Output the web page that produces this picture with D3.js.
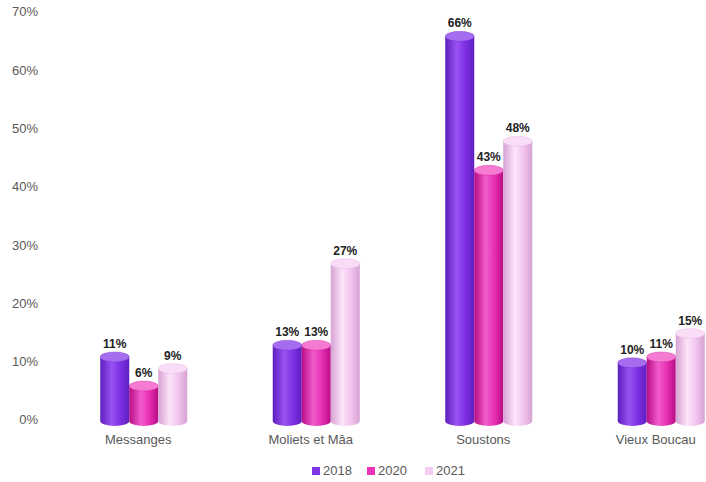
<!DOCTYPE html>
<html>
<head>
<meta charset="utf-8">
<script src="https://cdn.jsdelivr.net/npm/d3@7"></script>
<style>
  html, body { margin: 0; padding: 0; background: #fff; }
  svg { display: block; }
</style>
</head>
<body>
<svg id="chart" width="706" height="482"></svg>
<script>
const categories = ["Messanges", "Moliets et Mâa", "Soustons", "Vieux Boucau"];
const seriesNames = ["2018", "2020", "2021"];
const values2018 = [11, 13, 66, 10];
const values2020 = [6, 13, 43, 11];
const values2021 = [9, 27, 48, 15];
const yTicks = [0, 10, 20, 30, 40, 50, 60, 70];

const seriesValues = [values2018, values2020, values2021];
const palette = {
  "2018": { edge: "#5e1fc0", mid: "#9a52f2", base: "#7d2fe3", top: "#a56cf0", legend: "#8034e6" },
  "2020": { edge: "#b80c86", mid: "#f25ccb", base: "#e62eb2", top: "#f57ad2", legend: "#ea34b6" },
  "2021": { edge: "#d6a2d3", mid: "#fde4fa", base: "#f2c4ee", top: "#f9dcf6", legend: "#f6cdf3" }
};

const svg = d3.select("#chart");
const font = "'Liberation Sans', Arial, sans-serif";

const y = d3.scaleLinear().domain([0, 70]).range([421, 13]);
const x = d3.scaleBand().domain(categories).range([52, 742]).paddingInner(0).paddingOuter(0);
const xs = d3.scaleBand().domain(seriesNames).range([-38, 49]).padding(0);

// gradients
const defs = svg.append("defs");
seriesNames.forEach(s => {
  const g = defs.append("linearGradient").attr("id", "g" + s)
    .attr("x1", "0%").attr("x2", "100%").attr("y1", "0%").attr("y2", "0%");
  const p = palette[s];
  g.append("stop").attr("offset", "0%").attr("stop-color", p.edge);
  g.append("stop").attr("offset", "40%").attr("stop-color", p.mid);
  g.append("stop").attr("offset", "70%").attr("stop-color", p.base);
  g.append("stop").attr("offset", "100%").attr("stop-color", p.edge);
});

// y axis labels
svg.append("g").selectAll("text").data(yTicks).join("text")
  .attr("x", 38).attr("y", d => y(d))
  .attr("text-anchor", "end").attr("dominant-baseline", "middle")
  .attr("font-family", font).attr("font-size", 13).attr("fill", "#595959")
  .text(d => d + "%");

// x axis labels
svg.append("g").selectAll("text").data(categories).join("text")
  .attr("x", d => x(d) + x.bandwidth() / 2).attr("y", 441)
  .attr("text-anchor", "middle").attr("dominant-baseline", "middle")
  .attr("font-family", font).attr("font-size", 13).attr("fill", "#595959")
  .text(d => d);

const ry = 5;
const base = y(0);
const bars = svg.append("g");
categories.forEach((c, ci) => {
  seriesNames.forEach((s, si) => {
    const v = seriesValues[si][ci];
    const cx = x(c) + x.bandwidth() / 2;
    const x0 = cx + xs(s);
    const w = xs.bandwidth();
    const rx = w / 2;
    const yt = y(v);
    const g = bars.append("g");
    g.append("path")
      .attr("d", `M${x0},${yt} L${x0},${base} A${rx},${ry} 0 0 0 ${x0 + w},${base} L${x0 + w},${yt} Z`)
      .attr("fill", `url(#g${s})`);
    g.append("ellipse")
      .attr("cx", x0 + rx).attr("cy", yt).attr("rx", rx).attr("ry", ry)
      .attr("fill", palette[s].top).attr("stroke", palette[s].edge).attr("stroke-opacity", 0.35).attr("stroke-width", 0.8);
    g.append("text")
      .attr("x", x0 + rx).attr("y", yt - ry - 4)
      .attr("text-anchor", "middle")
      .attr("font-family", font).attr("font-size", 12).attr("font-weight", "bold").attr("fill", "#222")
      .text(v + "%");
  });
});

// legend
const legendX = [312, 367, 425];
const lg = svg.append("g");
seriesNames.forEach((s, i) => {
  lg.append("rect").attr("x", legendX[i]).attr("y", 467).attr("width", 8).attr("height", 8)
    .attr("fill", palette[s].legend);
  lg.append("text").attr("x", legendX[i] + 11).attr("y", 471.5)
    .attr("dominant-baseline", "middle")
    .attr("font-family", font).attr("font-size", 13).attr("fill", "#595959")
    .text(s);
});
</script>
</body>
</html>
